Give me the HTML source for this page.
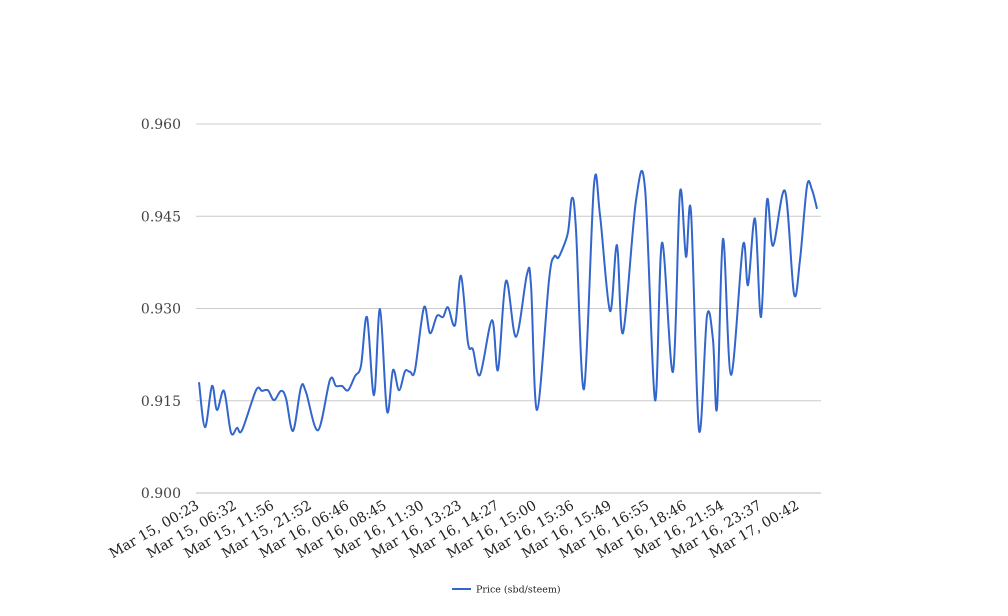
<!DOCTYPE html>
<html><head><meta charset="utf-8"><style>
body{margin:0;background:#fff;}
svg{display:block;font-family:"DejaVu Serif","Liberation Serif",serif;}
</style></head><body>
<svg id="chart" width="1008" height="616" viewBox="0 0 1008 616" xmlns="http://www.w3.org/2000/svg">
<g id="grid"></g>
<g id="ylab"></g>
<g id="xlab"></g>
<path id="line" fill="none" stroke="#3366cc" stroke-width="2"/>
<g>
<line x1="452" y1="589" x2="471" y2="589" stroke="#3366cc" stroke-width="2"/>
<text x="476" y="592.5" font-size="9.5" fill="#222">Price (sbd/steem)</text>
</g>
</svg>
<script>
const yTicks=[0.900,0.915,0.930,0.945,0.960];
const xLabels=["Mar 15, 00:23","Mar 15, 06:32","Mar 15, 11:56","Mar 15, 21:52","Mar 16, 06:46","Mar 16, 08:45","Mar 16, 11:30","Mar 16, 13:23","Mar 16, 14:27","Mar 16, 15:00","Mar 16, 15:36","Mar 16, 15:49","Mar 16, 16:55","Mar 16, 18:46","Mar 16, 21:54","Mar 16, 23:37","Mar 17, 00:42"];
const times=[0,6,13,18,25,32,38,43,57,63,69,75,82,87,94,102,107,119,131,137,143,149,156,162,168,175,181,188,194,200,206,211,216,225,231,238,244,249,256,262,269,274,281,293,299,307,317,328,332,338,350,355,359,363,369,373,377,385,395,401,411,418,424,437,446,456,463,474,481,487,492,500,508,514,518,524,532,544,549,556,562,568,574,586,595,601,608,613,618];
const prices=[0.9180,0.9107,0.9174,0.9135,0.9166,0.9098,0.9106,0.9102,0.9167,0.9166,0.9167,0.9151,0.9166,0.9154,0.9101,0.9172,0.9164,0.9102,0.9184,0.9174,0.9174,0.9167,0.9190,0.9207,0.9286,0.9159,0.9299,0.9133,0.9200,0.9167,0.9198,0.9197,0.9200,0.9302,0.9260,0.9288,0.9286,0.9302,0.9273,0.9353,0.9244,0.9233,0.9192,0.9281,0.9200,0.9345,0.9254,0.9356,0.9338,0.9135,0.9346,0.9384,0.9382,0.9395,0.9424,0.9480,0.9428,0.9169,0.9501,0.9452,0.9296,0.9403,0.9260,0.9476,0.9496,0.9151,0.9407,0.9197,0.9489,0.9384,0.9457,0.9102,0.9288,0.9249,0.9138,0.9413,0.9192,0.9403,0.9338,0.9446,0.9286,0.9476,0.9402,0.9491,0.9324,0.9379,0.9499,0.9493,0.9462];
const NS="http://www.w3.org/2000/svg";
const X0=196,X1=821,Y0=493,Y1=124;
function xs(t){return 199+t/618*618;}
function ys(v){return Y0-(v-0.900)/(0.960-0.900)*(Y0-Y1);}
const grid=document.getElementById('grid'),ylab=document.getElementById('ylab'),xlab=document.getElementById('xlab');
yTicks.forEach(v=>{
 const l=document.createElementNS(NS,'line');
 
 
 l.setAttribute('x1',X0);l.setAttribute('x2',X1);l.setAttribute('y1',ys(v));l.setAttribute('y2',ys(v));
 l.setAttribute('stroke',v===0.900?'#bbb':'#ccc');l.setAttribute('stroke-width','1');
 grid.appendChild(l);
 const t=document.createElementNS(NS,'text');
 
 
 t.setAttribute('x',181);t.setAttribute('y',ys(v)+5);t.setAttribute('text-anchor','end');
 t.setAttribute('font-size','14');t.setAttribute('fill','#444');
 t.textContent=v.toFixed(3);ylab.appendChild(t);
});
xLabels.forEach((s,i)=>{
 const x=200+i*37.5,y=508;
 const t=document.createElementNS(NS,'text');
 
 
 t.setAttribute('x',x);t.setAttribute('y',y);t.setAttribute('text-anchor','end');
 t.setAttribute('font-size','14');t.setAttribute('fill','#222');
 t.setAttribute('transform','rotate(-30 '+x+' '+y+')');
 t.textContent=s;xlab.appendChild(t);
});
const P=times.map((t,i)=>[xs(t),ys(prices[i])]);
let d='M'+P[0][0]+','+P[0][1];
for(let i=0;i<P.length-1;i++){
 const p0=P[Math.max(0,i-1)],p1=P[i],p2=P[i+1],p3=P[Math.min(P.length-1,i+2)];
 const c1=[p1[0]+(p2[0]-p0[0])/6,p1[1]+(p2[1]-p0[1])/6];
 const c2=[p2[0]-(p3[0]-p1[0])/6,p2[1]-(p3[1]-p1[1])/6];
 d+=' C'+c1[0].toFixed(1)+','+c1[1].toFixed(1)+' '+c2[0].toFixed(1)+','+c2[1].toFixed(1)+' '+p2[0].toFixed(1)+','+p2[1].toFixed(1);
}
document.getElementById('line').setAttribute('d',d);
</script>
</body></html>
